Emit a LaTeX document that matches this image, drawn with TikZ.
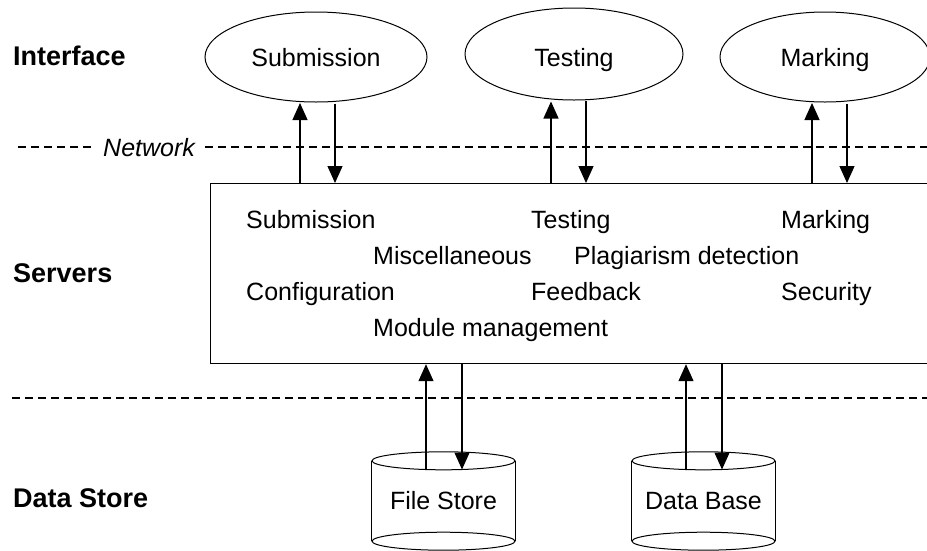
\documentclass[tikz,border=0pt]{standalone}
\usepackage{fontspec}
\setmainfont{Liberation Sans}
\usetikzlibrary{arrows.meta,shapes.geometric}
\begin{document}
\begin{tikzpicture}[x=1pt,y=-1pt,
  txt/.style={font=\fontsize{25}{30}\selectfont,inner sep=0pt},
  layer/.style={font=\fontsize{27}{32}\selectfont\bfseries,inner sep=0pt,anchor=base west},
  ui/.style={ellipse,draw,line width=1pt,inner sep=0pt,
    font=\fontsize{25}{30}\selectfont,text height=18pt,text depth=0pt},
  store/.style={rectangle,inner sep=0pt,minimum width=143,minimum height=80,
    font=\fontsize{25}{30}\selectfont},
  arr/.style={line width=1.2pt,-{Triangle[width=15pt,length=17pt]}},
  sep/.style={line width=1.1pt,dash pattern=on 8pt off 5pt}
]
\useasboundingbox (0,0) rectangle (927,550);

% layer titles
\node[layer] (lif) at (13,65) {Interface};
\node[layer] (lsv) at (13,282) {Servers};
\node[layer] (lds) at (13,507) {Data Store};

% interface ellipses
\node[ui,minimum width=222,minimum height=90] (sub) at (316,57) {Submission};
\node[ui,minimum width=218,minimum height=92] (tst) at (574,54) {\raisebox{-3pt}{Testing}};
\node[ui,minimum width=210,minimum height=90] (mrk) at (825,57) {Marking};

% network separator
\node[txt,font=\fontsize{25}{30}\selectfont\itshape,anchor=base west] (net) at (103,156) {Network};
\coordinate (nl) at (18,147);
\coordinate (nr) at (927,147);
\draw[sep] (nl) -- ([xshift=-12pt]nl -| net.west);
\draw[sep] ([xshift=10pt]nl -| net.east) -- (nr);

% server box and its components
\node[draw,line width=1.2pt,minimum width=740,minimum height=180,anchor=north west,inner sep=0pt] (srv) at (210,183) {};
\node[txt,anchor=base west] (s1) at (246,228) {Submission};
\node[txt,anchor=base west] (s2) at (531,228) {Testing};
\node[txt,anchor=base west] (s3) at (781,228) {Marking};
\node[txt,anchor=base west] (s4) at (373,264) {Miscellaneous};
\node[txt,anchor=base west] (s5) at (574,264) {Plagiarism detection};
\node[txt,anchor=base west] (s6) at (246,300) {Configuration};
\node[txt,anchor=base west] (s7) at (531,300) {Feedback};
\node[txt,anchor=base west] (s8) at (781,300) {Security};
\node[txt,anchor=base west] (s9) at (373,336) {Module management};

% storage separator
\coordinate (dl) at (12,398);
\coordinate (dr) at (927,398);
\draw[sep] (dl) -- (dr);

% data stores (cylinders)
\node[store] (fs) at (443.5,501) {File Store};
\node[store] (db) at (703.5,501) {Data Base};
\foreach \c in {fs,db}{
  \draw[line width=1pt] (\c.north) ellipse [x radius=71.5,y radius=9];
  \draw[line width=1pt] (\c.south) ellipse [x radius=71.5,y radius=9];
  \draw[line width=1pt] (\c.north west) -- (\c.south west);
  \draw[line width=1pt] (\c.north east) -- (\c.south east);
}

% interface <-> servers
\draw[arr] ([xshift=-16pt]sub.south |- srv.north) -- ([xshift=-16pt,yshift=-0.5pt]sub.south);
\draw[arr] ([xshift=19pt,yshift=-1pt]sub.south) -- ([xshift=19pt]sub.south |- srv.north);
\draw[arr] ([xshift=-23pt]tst.south |- srv.north) -- ([xshift=-23pt,yshift=-1pt]tst.south);
\draw[arr] ([xshift=12pt,yshift=-0.5pt]tst.south) -- ([xshift=12pt]tst.south |- srv.north);
\draw[arr] ([xshift=-13pt]mrk.south |- srv.north) -- ([xshift=-13pt,yshift=-0.5pt]mrk.south);
\draw[arr] ([xshift=22pt,yshift=-1pt]mrk.south) -- ([xshift=22pt]mrk.south |- srv.north);

% servers <-> data stores
\draw[arr] ([xshift=-17.5pt,yshift=-9pt]fs.north) -- ([xshift=-17.5pt]fs.north |- srv.south);
\draw[arr] ([xshift=18.5pt]fs.north |- srv.south) -- ([xshift=18.5pt,yshift=-8.7pt]fs.north);
\draw[arr] ([xshift=-17.5pt,yshift=-9pt]db.north) -- ([xshift=-17.5pt]db.north |- srv.south);
\draw[arr] ([xshift=18.5pt]db.north |- srv.south) -- ([xshift=18.5pt,yshift=-8.7pt]db.north);
\end{tikzpicture}
\end{document}
